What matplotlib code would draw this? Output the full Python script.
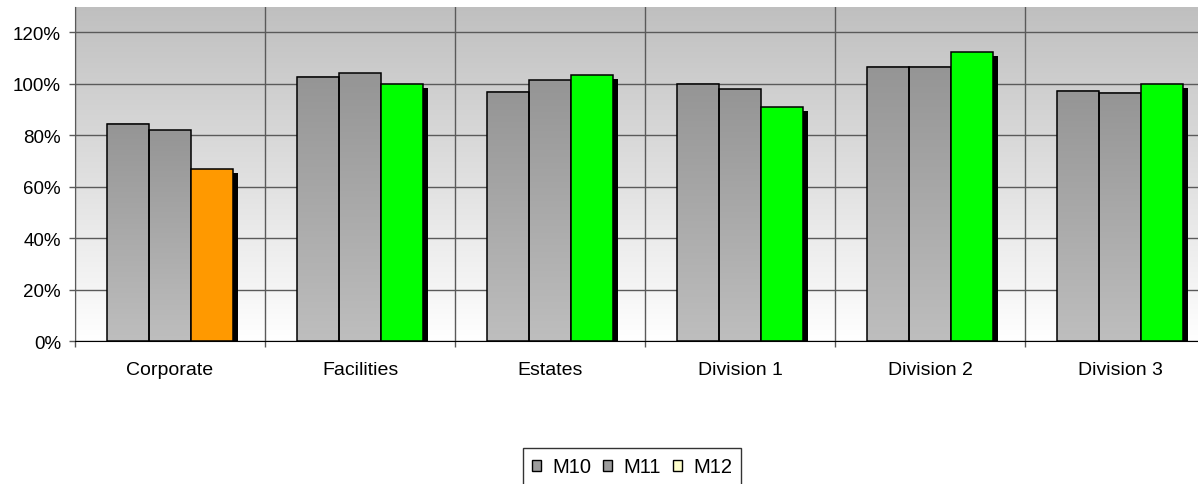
import numpy as np
import matplotlib
matplotlib.use('Agg')
import matplotlib.pyplot as plt
import matplotlib.patches as mpatches
from matplotlib.ticker import FixedLocator, PercentFormatter

plt.rcParams['font.family'] = ['Liberation Sans', 'DejaVu Sans']

# ---------------------------------------------------------------------------
# Data (percent of target per area)
# ---------------------------------------------------------------------------

categories = ['Corporate', 'Facilities', 'Estates', 'Division 1', 'Division 2', 'Division 3']
series_names = ['M10', 'M11', 'M12']
m10 = [84.3, 102.7, 96.8, 100.0, 106.6, 97.3]
m11 = [81.9, 104.0, 101.3, 97.8, 106.6, 96.5]
m12 = [66.8, 100.0, 103.5, 90.9, 112.5, 99.9]

# ---------------------------------------------------------------------------
# Styling
# ---------------------------------------------------------------------------

_BAR_W = 0.221
_GRID = '#5a5a5a'
_ORANGE = '#ff9900'
_GREEN = '#00ff00'
_GRAY_TOP = np.array([0x95, 0x95, 0x95]) / 255
_GRAY_BOT = np.array([0xbe, 0xbe, 0xbe]) / 255


def _gradient(top, bottom, n=256):
    t = np.linspace(0, 1, n)[:, None]
    rgb = top[None, :] * (1 - t) + bottom[None, :] * t
    return rgb[:, None, :]


def _gray_bar(ax, x, h):
    """Gray bar with a vertical gradient fill and black outline."""
    x0 = x - _BAR_W / 2
    ax.imshow(_gradient(_GRAY_TOP, _GRAY_BOT), extent=(x0, x0 + _BAR_W, 0, h),
              aspect='auto', zorder=3, interpolation='bilinear')
    ax.add_patch(mpatches.Rectangle((x0, 0), _BAR_W, h, facecolor='none',
                                    edgecolor='black', linewidth=1.1, zorder=4))


def _flat_bar(ax, x, h, color):
    """Solid bar with a hard black drop shadow."""
    x0 = x - _BAR_W / 2
    ax.add_patch(mpatches.Rectangle((x0 + 0.026, 0), _BAR_W, h - 0.016,
                                    facecolor='black', edgecolor='none', zorder=2.5))
    ax.add_patch(mpatches.Rectangle((x0, 0), _BAR_W, h, facecolor=color,
                                    edgecolor='black', linewidth=1.1, zorder=4))


fig = plt.figure(figsize=(11.98, 4.85), dpi=100)
ax = fig.add_axes([75 / 1198, 1 - 342.3 / 485, 1140 / 1198, 334.8 / 485])

# plot-area background: gray at the top fading to white
ax.imshow(_gradient(np.array([0.75, 0.75, 0.75]), np.array([1.0, 1.0, 1.0])),
          extent=(0, 1, 0, 1), transform=ax.transAxes, aspect='auto', zorder=0,
          interpolation='bilinear')

x = np.arange(len(categories))
for i in x:
    _gray_bar(ax, i - _BAR_W, m10[i] / 100)
    _gray_bar(ax, i, m11[i] / 100)
    color = _ORANGE if m12[i] < 80 else _GREEN
    _flat_bar(ax, i + _BAR_W, m12[i] / 100, color)

ax.set_xlim(-0.5, len(categories) - 0.5)
ax.set_ylim(0, 1.3)

ax.yaxis.set_major_locator(FixedLocator(np.arange(0, 1.21, 0.2)))
ax.yaxis.set_major_formatter(PercentFormatter(1.0, decimals=0))
ax.set_xticks(x)
ax.set_xticklabels(categories)
ax.xaxis.set_minor_locator(FixedLocator(np.arange(-0.5, len(categories), 1.0)))

ax.tick_params(axis='y', length=4, width=1, color=_GRID, pad=6, labelsize=13.5)
ax.tick_params(axis='x', which='major', length=0, pad=14, labelsize=14)
ax.tick_params(axis='x', which='minor', length=4, width=1, color=_GRID)

ax.set_axisbelow(True)
ax.grid(axis='y', which='major', color=_GRID, linewidth=1.0)
ax.grid(axis='x', which='minor', color=_GRID, linewidth=1.0)
ax.grid(axis='x', which='major', visible=False)

for side in ('top', 'right'):
    ax.spines[side].set_visible(False)
ax.spines['left'].set_color(_GRID)
ax.spines['bottom'].set_color('black')
ax.spines['bottom'].set_zorder(5)

handles = [
    mpatches.Patch(facecolor='#9c9c9c', edgecolor='black', linewidth=1.0),
    mpatches.Patch(facecolor='#9c9c9c', edgecolor='black', linewidth=1.0),
    mpatches.Patch(facecolor='#ffffcc', edgecolor='black', linewidth=1.0),
]
leg = fig.legend(handles, series_names, loc='center',
                 bbox_to_anchor=(632 / 1198, 1 - 468 / 485), ncol=3,
                 fontsize=14.5, frameon=True, fancybox=False, handlelength=0.45,
                 handleheight=0.45, handletextpad=0.55, columnspacing=0.6,
                 borderpad=0.45)
leg.get_frame().set_edgecolor('black')
leg.get_frame().set_linewidth(1.0)

fig.savefig('out.png', dpi=100)
